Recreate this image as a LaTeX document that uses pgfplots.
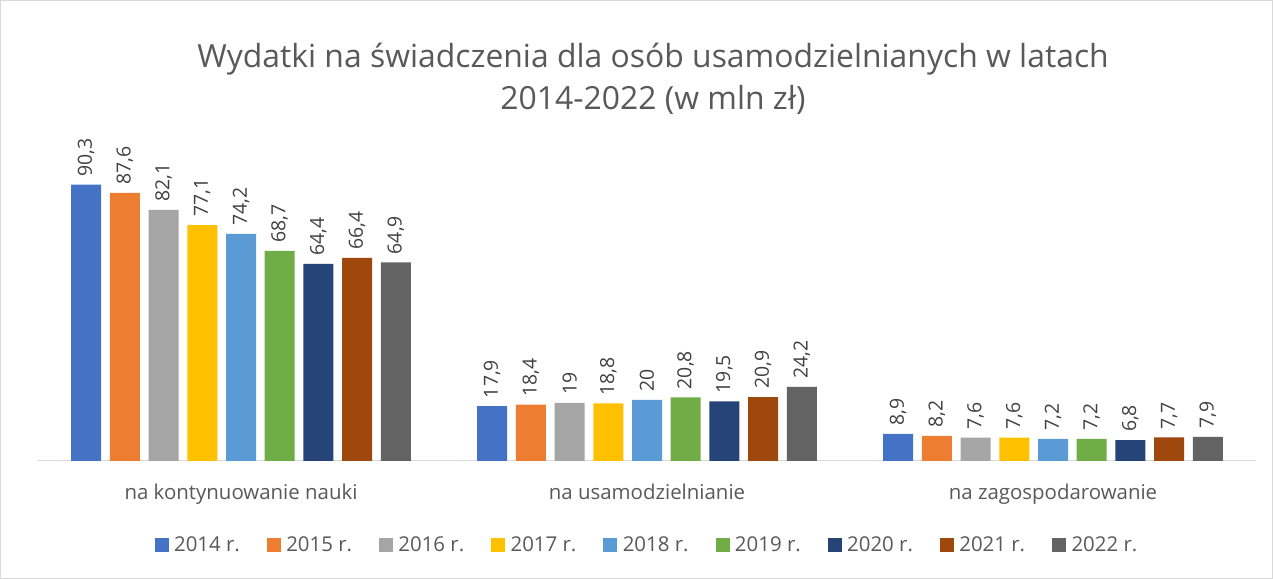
\documentclass[border=0pt]{standalone}
\usepackage{fontspec}
\setmainfont{Open Sans}
\usepackage{pgfplots}
\pgfplotsset{compat=1.18}
\definecolor{c1}{HTML}{4472C4}
\definecolor{c2}{HTML}{ED7D31}
\definecolor{c3}{HTML}{A5A5A5}
\definecolor{c4}{HTML}{FFC000}
\definecolor{c5}{HTML}{5B9BD5}
\definecolor{c6}{HTML}{70AD47}
\definecolor{c7}{HTML}{264478}
\definecolor{c8}{HTML}{9E480E}
\definecolor{c9}{HTML}{636363}
\definecolor{titlegray}{HTML}{595959}
\definecolor{labgray}{HTML}{404040}
\definecolor{linegray}{HTML}{D9D9D9}
\begin{document}
\begin{tikzpicture}[x=1bp,y=1bp]
\useasboundingbox (0,0) rectangle (1273,579);
\draw[linegray] (0.5,0.5) rectangle (1272.5,578.5);
\node[font=\fontsize{32}{42}\selectfont, text=titlegray, align=center] at (653,500)
  {Wydatki na świadczenia dla osób usamodzielnianych w latach\\2014-2022 (w mln zł)};
\begin{axis}[
  at={(38bp,118bp)}, anchor=south west,
  scale only axis, width=1218bp, height=306bp,
  xmin=-0.5, xmax=2.5, ymin=0, ymax=100,
  axis y line=none, axis x line=bottom,
  x axis line style={-, draw=linegray, line width=1bp},
  xtick={0,1,2}, xtick style={draw=none},
  xticklabels={na kontynuowanie nauki, na usamodzielnianie, na zagospodarowanie},
  xticklabel style={font=\fontsize{20.5}{24}\selectfont, text=titlegray, yshift=-15bp},
  ybar=8.7bp, bar width=30bp,
  /pgf/number format/assume math mode=true,
  /pgf/number format/use comma, /pgf/number format/fixed, /pgf/number format/precision=1,
  nodes near coords,
  every node near coord/.append style={rotate=90, anchor=west, inner xsep=8bp, font=\fontsize{19.5}{24}\selectfont, text=labgray},
  legend style={at={(0.5,-0.275)}, anchor=center, draw=none, legend columns=9,
    font=\fontsize{20.5}{24}\selectfont, text=titlegray,
    /tikz/every even column/.append style={column sep=25bp}},
  legend image code/.code={\fill[#1] (0bp,-7bp) rectangle (14bp,7bp);},
]
\addplot[fill=c1, draw=none] coordinates {(0,90.3) (1,17.9) (2,8.9)};
\addplot[fill=c2, draw=none] coordinates {(0,87.6) (1,18.4) (2,8.2)};
\addplot[fill=c3, draw=none] coordinates {(0,82.1) (1,19) (2,7.6)};
\addplot[fill=c4, draw=none] coordinates {(0,77.1) (1,18.8) (2,7.6)};
\addplot[fill=c5, draw=none] coordinates {(0,74.2) (1,20) (2,7.2)};
\addplot[fill=c6, draw=none] coordinates {(0,68.7) (1,20.8) (2,7.2)};
\addplot[fill=c7, draw=none] coordinates {(0,64.4) (1,19.5) (2,6.8)};
\addplot[fill=c8, draw=none] coordinates {(0,66.4) (1,20.9) (2,7.7)};
\addplot[fill=c9, draw=none] coordinates {(0,64.9) (1,24.2) (2,7.9)};
\legend{\,2014 r., \,2015 r., \,2016 r., \,2017 r., \,2018 r., \,2019 r., \,2020 r., \,2021 r., \,2022 r.}
\end{axis}
\end{tikzpicture}
\end{document}
